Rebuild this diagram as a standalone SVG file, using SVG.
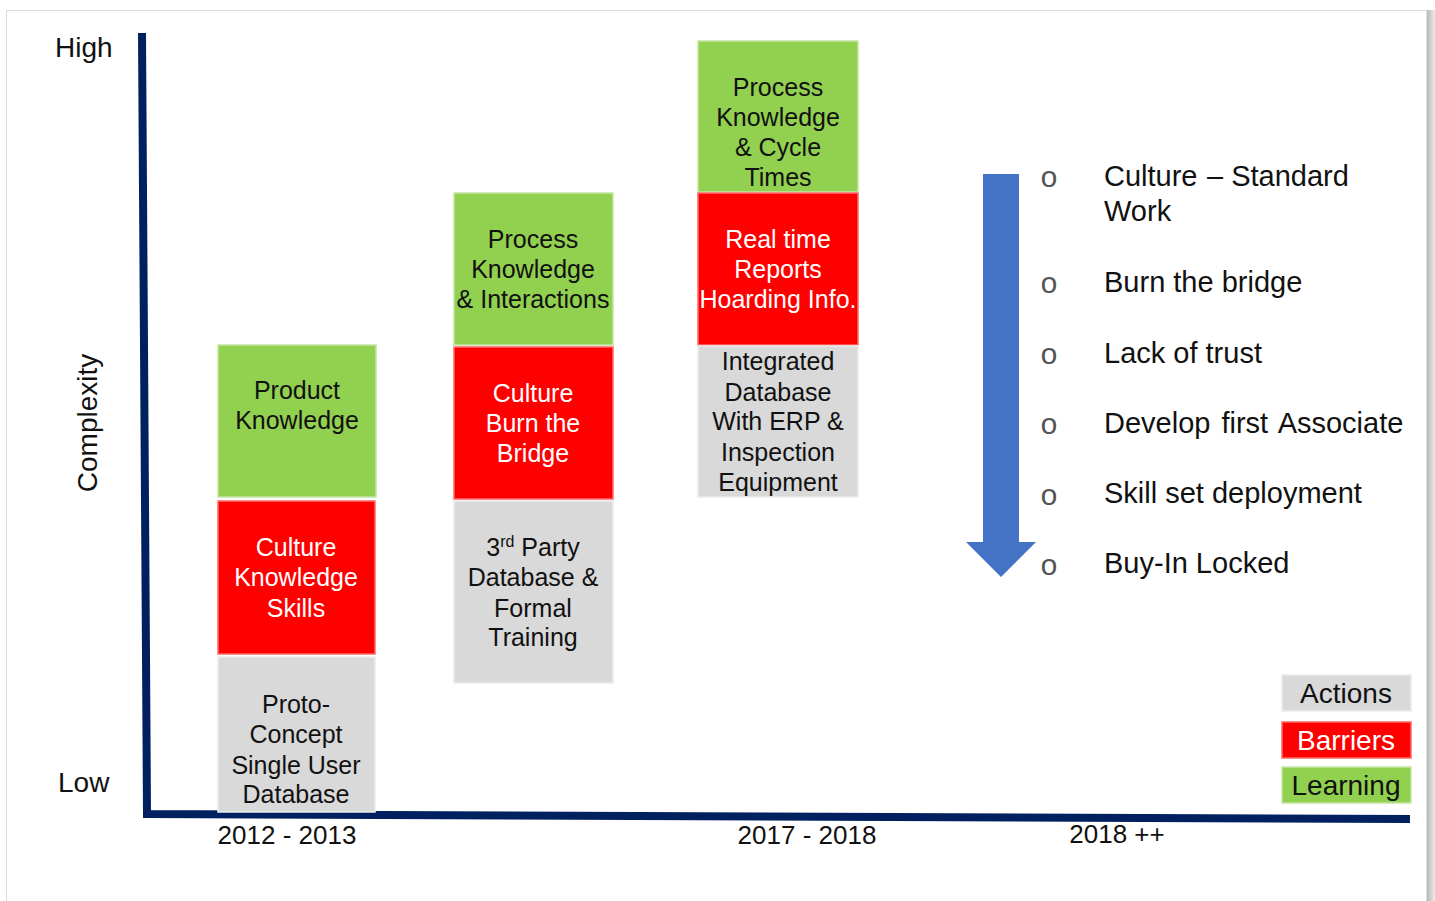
<svg xmlns="http://www.w3.org/2000/svg" width="1435" height="901" viewBox="0 0 1435 901">
  <defs>
    <linearGradient id="edgeShade" x1="0" y1="0" x2="1" y2="0">
      <stop offset="0" stop-color="#b8b8b8"/>
      <stop offset="1" stop-color="#ececec"/>
    </linearGradient>
    <style>
      .t { font-family: "Liberation Sans", Arial, sans-serif; }
      .box { font-size: 25px; text-anchor: middle; }
      .dark { fill: #111; }
      .light { fill: #fff; }
      .learn { fill: #92d050; stroke: #c4e6a3; stroke-width: 1.5; }
      .barrier { fill: #ff0000; stroke: #ff6a6a; stroke-width: 1.5; }
      .action { fill: #d9d9d9; stroke: #ececec; stroke-width: 1.5; }
      .axis { fill: none; stroke: #002060; stroke-width: 8; stroke-linejoin: miter; }
      .lbl { font-size: 28px; fill: #111; }
      .item { font-size: 29px; fill: #111; }
      .bullet { font-family: "Liberation Mono", "Courier New", monospace; font-size: 30px; fill: #555; text-anchor: middle; }
      .year { font-size: 26px; fill: #111; text-anchor: middle; }
    </style>
  </defs>

  <!-- page -->
  <rect x="0" y="0" width="1435" height="901" fill="#ffffff"/>
  <rect x="6.5" y="10.5" width="1420" height="900" fill="#ffffff" stroke="#dcdcdc" stroke-width="1"/>
  <rect x="1427" y="10" width="8" height="891" fill="url(#edgeShade)"/>

  <!-- axes -->
  <g id="connectors">
    <path class="axis" d="M142,33 L147,814 L1410,819"/>
  </g>

  <!-- axis labels -->
  <g id="axis-labels" class="t">
    <text class="lbl" x="55" y="57">High</text>
    <text class="lbl" x="58" y="792">Low</text>
    <text class="lbl" transform="translate(97,423) rotate(-90)" text-anchor="middle">Complexity</text>
    <text class="year" x="287" y="844">2012 - 2013</text>
    <text class="year" x="807" y="844">2017 - 2018</text>
    <text class="year" x="1117" y="843">2018 ++</text>
  </g>

  <!-- 2012 - 2013 column -->
  <g id="learning-2012" class="t box">
    <rect class="learn" x="218" y="345" width="158" height="152"/>
    <text class="dark" x="297" y="399">Product</text>
    <text class="dark" x="297" y="429">Knowledge</text>
  </g>
  <g id="barrier-2012" class="t box">
    <rect class="barrier" x="218" y="501" width="157" height="153"/>
    <text class="light" x="296" y="556">Culture</text>
    <text class="light" x="296" y="586">Knowledge</text>
    <text class="light" x="296" y="617">Skills</text>
  </g>
  <g id="action-2012" class="t box">
    <rect class="action" x="218" y="657" width="157" height="155"/>
    <text class="dark" x="296" y="713">Proto-</text>
    <text class="dark" x="296" y="743">Concept</text>
    <text class="dark" x="296" y="774">Single User</text>
    <text class="dark" x="296" y="803">Database</text>
  </g>

  <!-- middle column -->
  <g id="learning-mid" class="t box">
    <rect class="learn" x="454" y="193" width="159" height="152"/>
    <text class="dark" x="533" y="248">Process</text>
    <text class="dark" x="533" y="278">Knowledge</text>
    <text class="dark" x="533" y="308">&amp; Interactions</text>
  </g>
  <g id="barrier-mid" class="t box">
    <rect class="barrier" x="454" y="347" width="159" height="152"/>
    <text class="light" x="533" y="402">Culture</text>
    <text class="light" x="533" y="432">Burn the</text>
    <text class="light" x="533" y="462">Bridge</text>
  </g>
  <g id="action-mid" class="t box">
    <rect class="action" x="454" y="501" width="159" height="182"/>
    <text class="dark" x="533" y="556">3<tspan font-size="16" dy="-9">rd</tspan><tspan dy="9"> Party</tspan></text>
    <text class="dark" x="533" y="586">Database &amp;</text>
    <text class="dark" x="533" y="617">Formal</text>
    <text class="dark" x="533" y="646">Training</text>
  </g>

  <!-- 2017 - 2018 column -->
  <g id="learning-2017" class="t box">
    <rect class="learn" x="698" y="41" width="160" height="151"/>
    <text class="dark" x="778" y="96">Process</text>
    <text class="dark" x="778" y="126">Knowledge</text>
    <text class="dark" x="778" y="156">&amp; Cycle</text>
    <text class="dark" x="778" y="186">Times</text>
  </g>
  <g id="barrier-2017" class="t box">
    <rect class="barrier" x="698" y="193" width="160" height="152"/>
    <text class="light" x="778" y="248">Real time</text>
    <text class="light" x="778" y="278">Reports</text>
    <text class="light" x="778" y="308">Hoarding Info.</text>
  </g>
  <g id="action-2017" class="t box">
    <rect class="action" x="698" y="346" width="160" height="151"/>
    <text class="dark" x="778" y="370">Integrated</text>
    <text class="dark" x="778" y="401">Database</text>
    <text class="dark" x="778" y="430">With ERP &amp;</text>
    <text class="dark" x="778" y="461">Inspection</text>
    <text class="dark" x="778" y="491">Equipment</text>
  </g>

  <!-- progression arrow -->
  <g id="progress-arrow">
    <polygon points="983,174 1019,174 1019,542 1036,542 1001,577 966,542 983,542" fill="#4472c4"/>
  </g>

  <!-- milestone list -->
  <g id="milestones" class="t">
    <text class="bullet" x="1049" y="187">o</text>
    <text class="bullet" x="1049" y="293">o</text>
    <text class="bullet" x="1049" y="364">o</text>
    <text class="bullet" x="1049" y="434">o</text>
    <text class="bullet" x="1049" y="505">o</text>
    <text class="bullet" x="1049" y="575">o</text>
    <text class="item" y="186"><tspan x="1104">Culture</tspan><tspan x="1207">– Standard</tspan></text>
    <text class="item" x="1104" y="221">Work</text>
    <text class="item" x="1104" y="292">Burn the bridge</text>
    <text class="item" x="1104" y="363">Lack of trust</text>
    <text class="item" x="1104" y="433" word-spacing="3">Develop first Associate</text>
    <text class="item" x="1104" y="503">Skill set deployment</text>
    <text class="item" x="1104" y="573">Buy-In Locked</text>
  </g>

  <!-- legend -->
  <g id="legend-actions" class="t">
    <rect class="action" x="1282" y="675" width="129" height="36"/>
    <text class="lbl" x="1346" y="703" text-anchor="middle">Actions</text>
  </g>
  <g id="legend-barriers" class="t">
    <rect class="barrier" x="1282" y="722" width="129" height="36"/>
    <text class="lbl" x="1346" y="750" text-anchor="middle" style="fill:#fff">Barriers</text>
  </g>
  <g id="legend-learning" class="t">
    <rect class="learn" x="1282" y="767" width="129" height="36"/>
    <text class="lbl" x="1346" y="795" text-anchor="middle">Learning</text>
  </g>
</svg>
